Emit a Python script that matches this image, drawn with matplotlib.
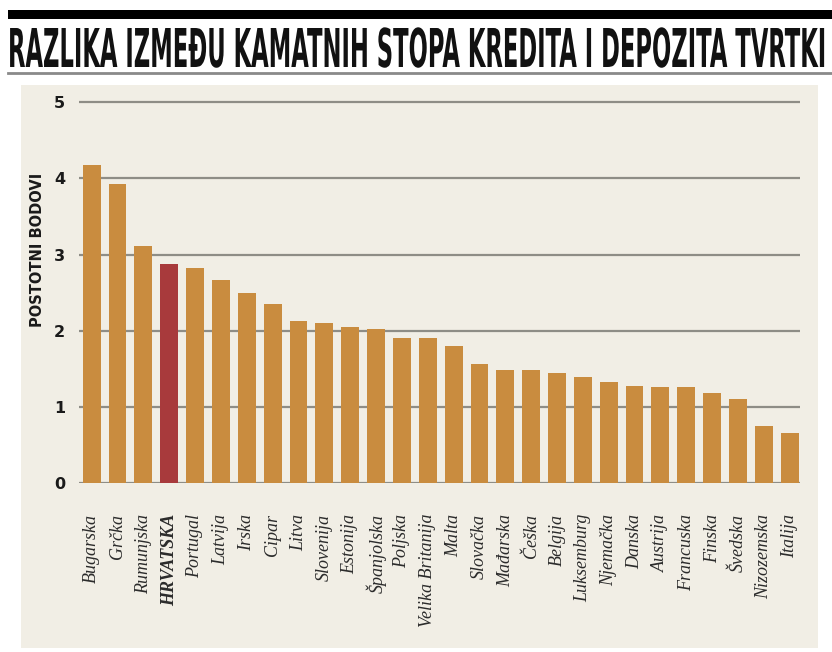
import matplotlib
matplotlib.use("Agg")
import matplotlib.pyplot as plt
from matplotlib.patches import Rectangle
from matplotlib.lines import Line2D
from matplotlib.patheffects import AbstractPathEffect
from matplotlib.transforms import Affine2D
from matplotlib.textpath import TextPath
from matplotlib.font_manager import FontProperties
from matplotlib import font_manager

countries = ["Bugarska", "Grčka", "Rumunjska", "HRVATSKA", "Portugal", "Latvija",
             "Irska", "Cipar", "Litva", "Slovenija", "Estonija", "Španjolska",
             "Poljska", "Velika Britanija", "Malta", "Slovačka", "Mađarska", "Češka",
             "Belgija", "Luksemburg", "Njemačka", "Danska", "Austrija", "Francuska",
             "Finska", "Švedska", "Nizozemska", "Italija"]
values = [4.18, 3.93, 3.11, 2.88, 2.82, 2.67, 2.49, 2.35, 2.13, 2.10, 2.05, 2.02,
          1.91, 1.90, 1.80, 1.56, 1.48, 1.48, 1.44, 1.40, 1.33, 1.28, 1.26, 1.26,
          1.19, 1.11, 0.75, 0.66]
highlight = "HRVATSKA"
yticks = [0, 1, 2, 3, 4, 5]

title = "RAZLIKA IZMEĐU KAMATNIH STOPA KREDITA I DEPOZITA TVRTKI"
ylabel = "POSTOTNI BODOVI"

W, H, DPI = 832, 652, 100
tan = "#c98c3f"
red = "#a83a3c"
panel = "#f1eee5"
grid = "#8e8d86"


class Stretch(AbstractPathEffect):
    # stretch glyphs vertically around the baseline y0 (display px)
    def __init__(self, sy, y0):
        super().__init__()
        self.sy = sy
        self.y0 = y0

    def draw_path(self, renderer, gc, tpath, affine, rgbFace=None):
        aff = affine + Affine2D().translate(0, -self.y0).scale(1, self.sy).translate(0, self.y0)
        renderer.draw_path(gc, tpath, aff, rgbFace)


names = {f.name for f in font_manager.fontManager.ttflist}
title_font = "Liberation Sans Narrow" if "Liberation Sans Narrow" in names else "DejaVu Sans"

fig = plt.figure(figsize=(W / DPI, H / DPI), dpi=DPI, facecolor="white")

def fx(px):
    return px / W

def fy(py):
    return 1 - py / H

# header: black bar, title, grey rule
fig.patches.append(Rectangle((fx(8), fy(19)), fx(832 - 8), 9 / H, transform=fig.transFigure,
                             facecolor="black", edgecolor="none"))
fig.lines.append(Line2D([fx(8), 1], [fy(73), fy(73)], transform=fig.transFigure,
                        color="#8a8a8a", lw=2))

# title: fit the width, then stretch the glyphs up to the reference cap height
t = fig.text(fx(8), fy(67), title, ha="left", va="baseline", fontsize=20,
             fontweight="bold", family=title_font, color="#111111")
renderer = fig.canvas.get_renderer()
w = t.get_window_extent(renderer).width
fs = 20 * (824 - 8) / w
t.set_fontsize(fs)
prop = FontProperties(family=title_font, weight="bold")
cap = TextPath((0, 0), "H", size=fs, prop=prop).get_extents().height * DPI / 72
t.set_path_effects([Stretch(39 / cap, H - 67)])

# beige panel
fig.patches.append(Rectangle((fx(21), fy(648)), fx(818 - 21), (648 - 85) / H,
                             transform=fig.transFigure, facecolor=panel,
                             edgecolor="none", zorder=0))

ymax = 5.08
unit = (483.3 - 102) / 5
ax = fig.add_axes([fx(79), fy(483.3), fx(800 - 79), ymax * unit / H])
ax.set_facecolor("none")
ax.set_zorder(1)

x = list(range(len(countries)))
colors = [red if c == highlight else tan for c in countries]
ax.bar(x, values, width=0.69, color=colors, zorder=3)

ax.set_xlim(-0.49, len(countries) - 0.6)
ax.set_ylim(0, ymax)
ax.set_yticks(yticks)
ax.set_yticklabels([str(v) for v in yticks], fontsize=11.5, fontweight="bold", color="#1a1a1a")
ax.grid(axis="y", color=grid, lw=1.6)
ax.set_axisbelow(True)
for s in ax.spines.values():
    s.set_visible(False)
ax.tick_params(axis="y", length=0, pad=10)
ax.tick_params(axis="x", length=0, pad=22)

ax.set_xticks(x)
ax.set_xticklabels(countries, rotation=90, family="Liberation Serif", style="italic",
                   fontsize=13, color="#2b2b2b")
for lbl in ax.get_xticklabels():
    if lbl.get_text() == highlight:
        lbl.set_fontweight("bold")

fig.text(fx(38), fy(250), ylabel, rotation=90, ha="center", va="center",
         fontsize=10.5, fontweight="bold", color="#1a1a1a")

fig.savefig("out.png", dpi=DPI, facecolor="white")
